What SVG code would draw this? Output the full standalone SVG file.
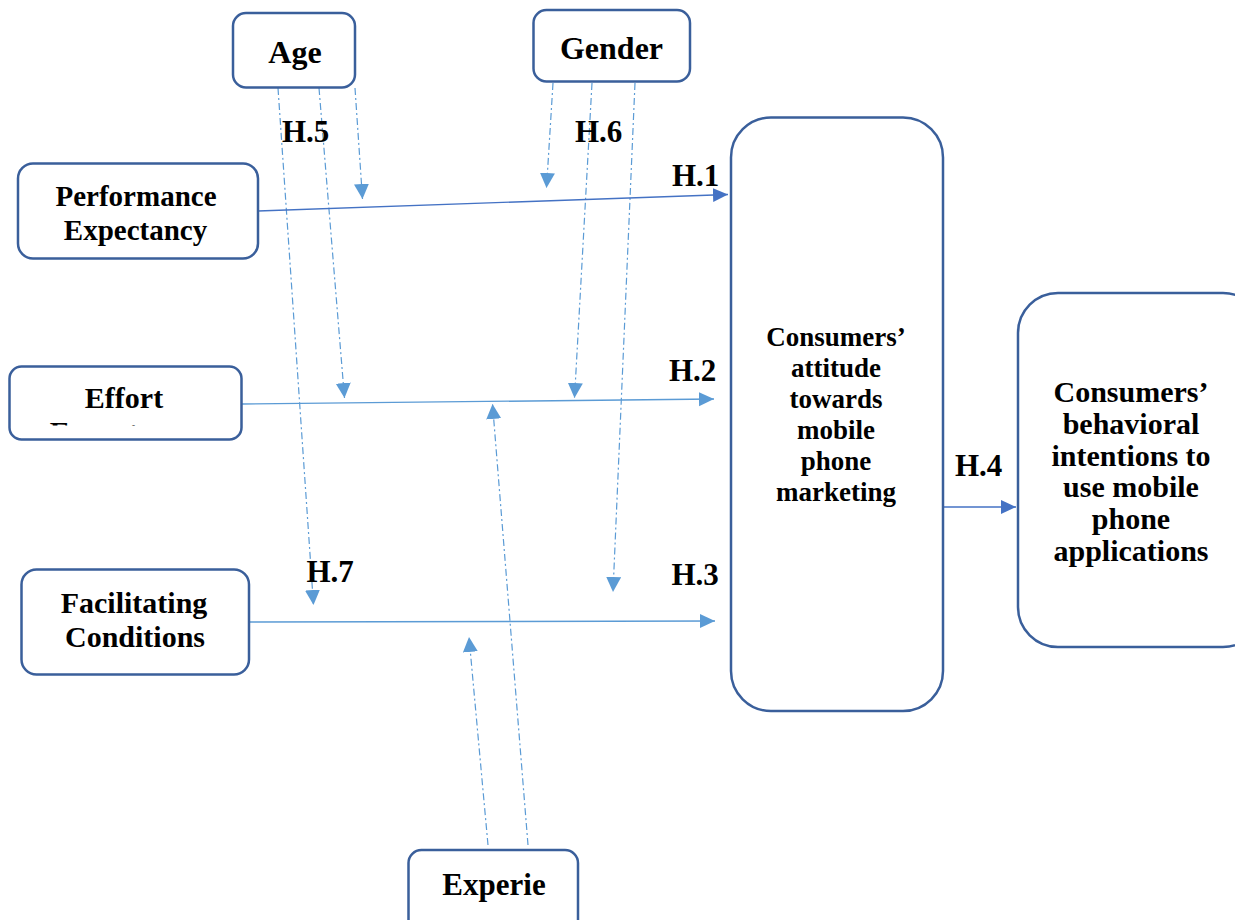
<svg xmlns="http://www.w3.org/2000/svg" width="1235" height="920" viewBox="0 0 1235 920">
<style>
.box{fill:#fff;stroke:#3A5F9B;stroke-width:2.5}
.t{font-family:"Liberation Serif","Times New Roman",serif;font-weight:bold;fill:#000;text-anchor:middle}
.h{font-family:"Liberation Serif","Times New Roman",serif;font-weight:bold;fill:#000;font-size:31px}
.dd{fill:none;stroke:#5B9BD5;stroke-width:1.2;stroke-dasharray:7 3 2 3}
.s1{fill:none;stroke:#4472C4;stroke-width:1.4}
.s2{fill:none;stroke:#5B9BD5;stroke-width:1.4}
</style>
<defs>
<marker id="aL" markerUnits="userSpaceOnUse" markerWidth="16" markerHeight="16" refX="15" refY="7.5" orient="auto"><path d="M0,0 L15,7.5 L0,15 z" fill="#5B9BD5"/></marker>
<marker id="aD" markerUnits="userSpaceOnUse" markerWidth="16" markerHeight="16" refX="15" refY="7" orient="auto"><path d="M0,0 L15,7 L0,14 z" fill="#4472C4"/></marker>
<marker id="aS" markerUnits="userSpaceOnUse" markerWidth="16" markerHeight="16" refX="15" refY="7" orient="auto"><path d="M0,0 L15,7 L0,14 z" fill="#5B9BD5"/></marker>
<clipPath id="effClip"><rect x="0" y="360" width="260" height="65.5"/></clipPath>
</defs>
<rect width="1235" height="920" fill="#fff"/>

<g id="connectors">
<line class="dd" x1="278" y1="88" x2="313.5" y2="605" marker-end="url(#aL)"/>
<line class="dd" x1="319" y1="88" x2="344.5" y2="398" marker-end="url(#aL)"/>
<line class="dd" x1="355" y1="88" x2="362.5" y2="199" marker-end="url(#aL)"/>
<line class="dd" x1="553" y1="83" x2="546.5" y2="188" marker-end="url(#aL)"/>
<line class="dd" x1="592" y1="83" x2="574.5" y2="398" marker-end="url(#aL)"/>
<line class="dd" x1="635" y1="83" x2="613" y2="592" marker-end="url(#aL)"/>
<line class="dd" x1="488" y1="845" x2="469" y2="637" marker-end="url(#aL)"/>
<line class="dd" x1="528" y1="845" x2="492.5" y2="404" marker-end="url(#aL)"/>
<line class="s1" x1="258" y1="211" x2="728" y2="194.5" marker-end="url(#aD)"/>
<line class="s2" x1="242" y1="404" x2="714" y2="399" marker-end="url(#aS)"/>
<line class="s2" x1="249" y1="622" x2="715" y2="621" marker-end="url(#aS)"/>
<line class="s1" x1="944" y1="507" x2="1016" y2="507" marker-end="url(#aD)"/>
<text class="h" x="282" y="141.5">H.5</text>
<text class="h" x="575" y="141.5">H.6</text>
<text class="h" x="672" y="186">H.1</text>
<text class="h" x="669" y="380.5">H.2</text>
<text class="h" x="671.5" y="585">H.3</text>
<text class="h" x="955" y="476">H.4</text>
<text class="h" x="306.5" y="581.5">H.7</text>
</g>

<g id="age">
<rect class="box" x="233" y="13" width="122" height="74.5" rx="13"/>
<text class="t" x="295" y="63" font-size="32">Age</text>
</g>
<g id="gender">
<rect class="box" x="533.5" y="10" width="156.5" height="71.5" rx="13"/>
<text class="t" x="611.5" y="59" font-size="32">Gender</text>
</g>
<g id="performance">
<rect class="box" x="18" y="163.5" width="240" height="95" rx="15"/>
<text class="t" x="136" y="206" font-size="29">Performance</text>
<text class="t" x="135.5" y="239.5" font-size="29">Expectancy</text>
</g>
<g id="effort">
<rect class="box" x="9.5" y="366.5" width="232" height="73" rx="12"/>
<text class="t" x="124" y="408" font-size="30">Effort</text>
<text class="t" x="124" y="442" font-size="30" clip-path="url(#effClip)">Expectancy</text>
</g>
<g id="facilitating">
<rect class="box" x="21.5" y="569.5" width="227.5" height="105" rx="15"/>
<text class="t" x="134" y="613" font-size="30">Facilitating</text>
<text class="t" x="135" y="647" font-size="30">Conditions</text>
</g>
<g id="attitude">
<rect class="box" x="731" y="117.5" width="212" height="593.5" rx="40"/>
<text class="t" x="836" y="346" font-size="27">Consumers’</text>
<text class="t" x="836" y="377" font-size="27">attitude</text>
<text class="t" x="836" y="408" font-size="27">towards</text>
<text class="t" x="836" y="439" font-size="27">mobile</text>
<text class="t" x="836" y="470" font-size="27">phone</text>
<text class="t" x="836" y="501" font-size="27">marketing</text>
</g>
<g id="intentions">
<rect class="box" x="1018" y="293" width="245" height="354" rx="40"/>
<text class="t" x="1131" y="402" font-size="30">Consumers’</text>
<text class="t" x="1131" y="434" font-size="30">behavioral</text>
<text class="t" x="1131" y="466" font-size="30">intentions to</text>
<text class="t" x="1131" y="497" font-size="30">use mobile</text>
<text class="t" x="1131" y="529" font-size="30">phone</text>
<text class="t" x="1131" y="561" font-size="30">applications</text>
</g>
<g id="experience">
<rect class="box" x="408.5" y="850" width="169.5" height="90" rx="13"/>
<text class="t" x="494" y="895" font-size="31">Experie</text>
</g>
</svg>
